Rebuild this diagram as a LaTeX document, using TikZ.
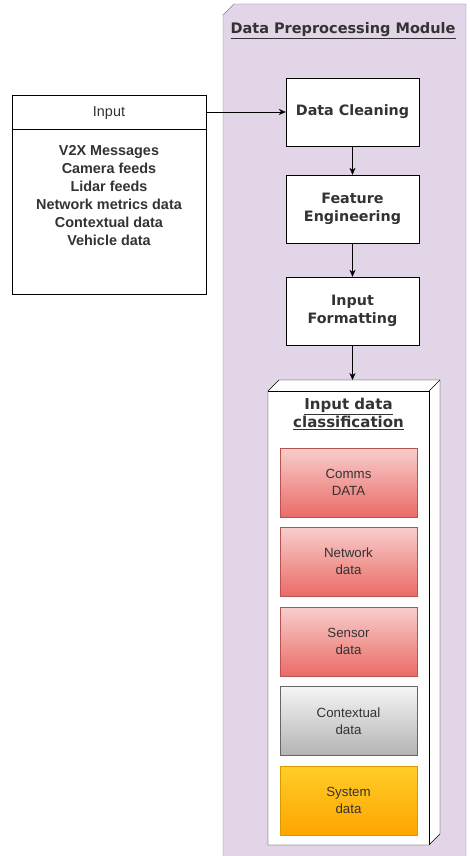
\documentclass[tikz,border=0pt]{standalone}
\usepackage{fontspec}
\setmainfont{Liberation Sans}
\newfontfamily\vfont{DejaVu Sans}
\usetikzlibrary{arrows.meta}

\definecolor{modfill}{HTML}{E1D5E7}
\definecolor{moddraw}{HTML}{9673A6}
\definecolor{redtop}{HTML}{F8CECC}
\definecolor{redbot}{HTML}{EA6B66}
\definecolor{reddraw}{HTML}{B85450}
\definecolor{graytop}{HTML}{F5F5F5}
\definecolor{graybot}{HTML}{B3B3B3}
\definecolor{graydraw}{HTML}{666666}
\definecolor{ylwtop}{HTML}{FFCD28}
\definecolor{ylwbot}{HTML}{FFA500}
\definecolor{ylwdraw}{HTML}{D79B00}
\definecolor{txtgray}{HTML}{333333}

\begin{document}
\begin{tikzpicture}[x=1pt, y=-1pt, >={Stealth[length=7pt,width=6pt]},
    stepbox/.style={draw, fill=white, minimum width=133pt, minimum height=68pt,
        align=center, text=txtgray, font=\vfont\bfseries\fontsize{14.3}{18}\selectfont},
    classbox/.style={draw, minimum width=137pt, minimum height=69pt, align=center,
        text=txtgray, font=\fontsize{13.3}{17}\selectfont}]
            \useasboundingbox (0,0) rectangle (469,856);

            % module background
            \filldraw[fill=modfill, draw=moddraw] (223,856) -- (223,15) -- (234,4) -- (466,4) -- (466,856);
            \node[text=txtgray, font=\vfont\bfseries\fontsize{14.5}{16}\selectfont] (modtitle) at (343,31) {\underline{Data Preprocessing Module}};

            % input
            \node[draw, fill=white, minimum width=194pt, minimum height=34pt, text=txtgray,
                text height=10pt, text depth=0pt, font=\fontsize{14.4}{16}\selectfont] (inhead) at (109,112) {Input};
            \node[draw, fill=white, minimum width=194pt, minimum height=165pt, anchor=north] (inbody) at (109,129) {};
            \node[anchor=north, align=center, inner sep=0pt, text=txtgray,
                font=\bfseries\fontsize{14.4}{18}\selectfont] (inlist) at (109,145.5)
                {V2X Messages\\Camera feeds\\Lidar feeds\\Network metrics data\\Contextual data\\Vehicle data};

            % steps
            \node[stepbox] (clean) at (352.5,112) {Data Cleaning};
            \node[stepbox] (feature) at (352.5,209) {Feature\\Engineering};
            \node[stepbox] (format) at (352.5,311) {Input\\Formatting};

            % classification cube
            \filldraw[fill=white, draw=black] (268,391) -- (279,380) -- (440,380) -- (440,834) -- (429,845) -- (268,845) -- cycle;
            \draw (268,391) -- (429,391) -- (429,845);
            \draw (429,391) -- (440,380);
            \coordinate (cubetop) at (352.5,380);
            \node[text=txtgray, font=\vfont\bfseries\fontsize{15}{18}\selectfont, align=center] (classtitle) at (348.5,414)
                {\underline{Input data}\\\underline{classification}};

            \node[classbox, draw=reddraw, top color=redtop, bottom color=redbot] (comms) at (348.5,482.5) {Comms\\DATA};
            \node[classbox, draw=reddraw, top color=redtop, bottom color=redbot] (network) at (348.5,561.5) {Network\\data};
            \node[classbox, draw=reddraw, top color=redtop, bottom color=redbot] (sensor) at (348.5,641.5) {Sensor\\data};
            \node[classbox, draw=graydraw, top color=graytop, bottom color=graybot] (context) at (348.5,721) {Contextual\\data};
            \node[classbox, draw=ylwdraw, top color=ylwtop, bottom color=ylwbot] (system) at (348.5,800.5) {System\\data};

            \draw[->] (inhead) -- (clean);
            \draw[->] (clean) -- (feature);
            \draw[->] (feature) -- (format);
            \draw[->] (format) -- (cubetop);
        \end{tikzpicture}
\end{document}
